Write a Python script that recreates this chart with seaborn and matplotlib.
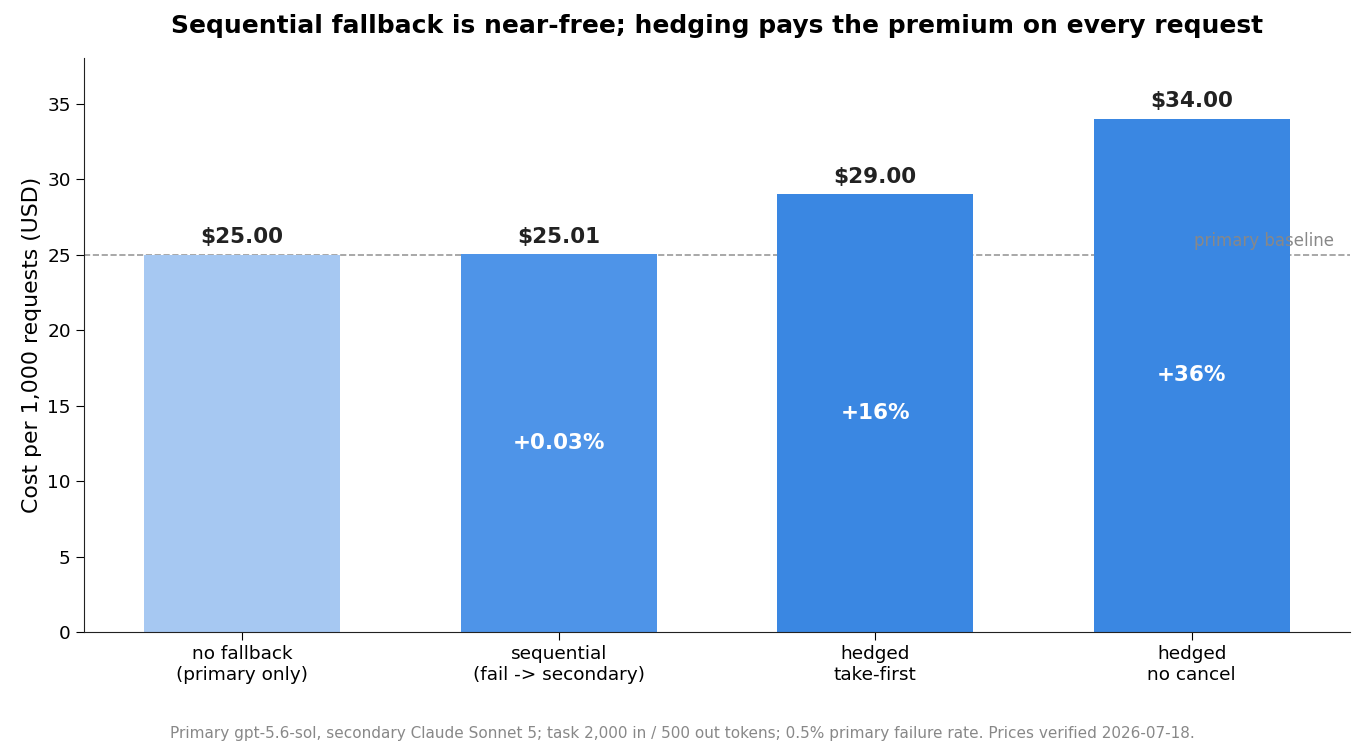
import matplotlib.pyplot as plt
import seaborn as sns
import pandas as pd

categories = ["no fallback\n(primary only)", "sequential\n(fail -> secondary)",
              "hedged\ntake-first", "hedged\nno cancel"]
costs = [25.00, 25.01, 29.00, 34.00]
cost_labels = ["$25.00", "$25.01", "$29.00", "$34.00"]
pct_labels = [None, "+0.03%", "+16%", "+36%"]
colors = ["#a6c8f2", "#4e94e8", "#3a87e2", "#3a87e2"]
baseline = 25.00

df = pd.DataFrame({"strategy": categories, "cost": costs})

sns.set_style("ticks")
plt.rcParams["font.family"] = ["DejaVu Sans"]
plt.rcParams["text.color"] = "black"
plt.rcParams["axes.labelcolor"] = "black"
plt.rcParams["xtick.color"] = "black"
plt.rcParams["ytick.color"] = "black"
plt.rcParams["axes.edgecolor"] = "#222222"

fig, ax = plt.subplots(figsize=(13.65, 7.56), dpi=100)

sns.barplot(data=df, x="strategy", y="cost", hue="strategy", palette=colors,
            width=0.62, saturation=1, legend=False, linewidth=0, ax=ax)

ax.axhline(baseline, color="#999999", linestyle="--", linewidth=1.2, zorder=0)
ax.text(3.45, baseline + 0.3, "primary baseline", ha="right", va="bottom",
        fontsize=12, color="#888888")

for i, (c, lab, pct) in enumerate(zip(costs, cost_labels, pct_labels)):
    ax.text(i, c + 0.5, lab, ha="center", va="bottom", fontsize=15.5,
            fontweight="bold", color="#222222")
    if pct:
        ax.text(i, c / 2, pct, ha="center", va="center", fontsize=15.5,
                fontweight="bold", color="white")

ax.set_ylim(0, 38.0)
ax.set_xlabel("")
ax.set_ylabel("Cost per 1,000 requests (USD)", fontsize=15.8)
ax.tick_params(axis="both", labelsize=13.3, length=6)
sns.despine(ax=ax)
ax.set_title("Sequential fallback is near-free; hedging pays the premium on every request",
             fontsize=18, fontweight="bold", pad=18.5)

fig.text(0.5, 0.02, "Primary gpt-5.6-sol, secondary Claude Sonnet 5; task 2,000 in / 500 out tokens; "
         "0.5% primary failure rate. Prices verified 2026-07-18.",
         ha="center", va="bottom", fontsize=11, color="#888888")

fig.subplots_adjust(left=0.0615, right=0.989, top=0.923, bottom=0.164)
fig.savefig("out.png", dpi=100)
plt.close(fig)
